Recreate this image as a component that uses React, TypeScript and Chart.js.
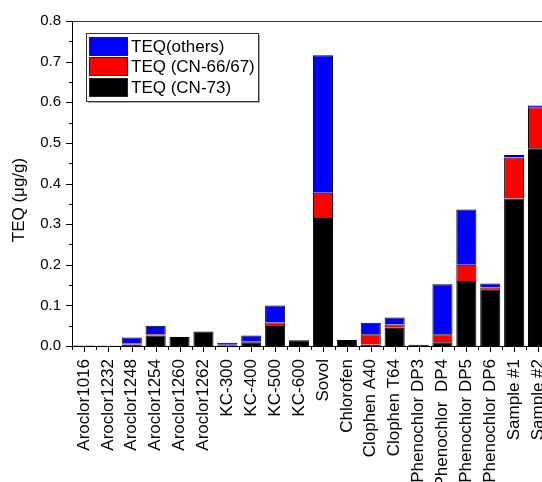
import React, { useEffect, useRef } from "react";
import { Chart, registerables } from "chart.js";

Chart.register(...registerables);

const categories = [
  "Aroclor1016", "Aroclor1232", "Aroclor1248", "Aroclor1254", "Aroclor1260", "Aroclor1262",
  "KC-300", "KC-400", "KC-500", "KC-600", "Sovol", "Chlorofen", "Clophen A40", "Clophen T64",
  "Phenochlor DP3", "Phenochlor  DP4", "Phenochlor DP5", "Phenochlor DP6", "Sample #1", "Sample #2",
];

const teqCN73 = [0, 0.0008, 0.004, 0.026, 0.022, 0.036, 0.002, 0.009, 0.049, 0.014, 0.315, 0.015, 0.004, 0.045, 0.003, 0.009, 0.16, 0.14, 0.363, 0.487];
const teqCN6667 = [0, 0, 0.003, 0.003, 0, 0, 0.001, 0.003, 0.009, 0, 0.062, 0, 0.025, 0.008, 0, 0.02, 0.04, 0.004, 0.101, 0.101];
const teqOthers = [0.001, 0.0005, 0.014, 0.021, 0, 0, 0.005, 0.014, 0.042, 0, 0.339, 0, 0.028, 0.017, 0, 0.123, 0.136, 0.01, 0.006, 0.004];

const yTicks = [0, 0.1, 0.2, 0.3, 0.4, 0.5, 0.6, 0.7, 0.8];

const legendItems = [
  { label: "TEQ(others)", color: "#0000ff" },
  { label: "TEQ (CN-66/67)", color: "#ff0000" },
  { label: "TEQ (CN-73)", color: "#000000" },
];

const FONT = '"Liberation Sans", Arial, sans-serif';

const decorPlugin = {
  id: "decor",
  afterDraw(chart: any) {
    const ctx = chart.ctx;
    const area = chart.chartArea;
    const x = chart.scales.x;
    const y = chart.scales.y;
    ctx.save();
    // top frame
    ctx.strokeStyle = "#333";
    ctx.lineWidth = 1;
    ctx.beginPath();
    ctx.moveTo(area.left, Math.round(area.top) + 0.5);
    ctx.lineTo(area.right, Math.round(area.top) + 0.5);
    ctx.moveTo(Math.round(area.right) - 0.5, area.top);
    ctx.lineTo(Math.round(area.right) - 0.5, area.bottom);
    ctx.stroke();
    // y ticks
    ctx.strokeStyle = "#000";
    ctx.beginPath();
    for (let i = 0; i < yTicks.length; i++) {
      const py = Math.round(y.getPixelForValue(yTicks[i])) + 0.5;
      ctx.moveTo(area.left - 6, py);
      ctx.lineTo(area.left, py);
      if (i < yTicks.length - 1) {
        const pm = Math.round(y.getPixelForValue((yTicks[i] + yTicks[i + 1]) / 2)) + 0.5;
        ctx.moveTo(area.left - 3, pm);
        ctx.lineTo(area.left, pm);
      }
    }
    // x ticks
    const n = categories.length;
    const half = (x.getPixelForValue(1) - x.getPixelForValue(0)) / 2;
    for (let i = 0; i < n; i++) {
      const px = Math.round(x.getPixelForValue(i)) + 0.5;
      ctx.moveTo(px, area.bottom);
      ctx.lineTo(px, area.bottom + 6);
      const pb = Math.round(x.getPixelForValue(i) - half) + 0.5;
      ctx.moveTo(pb, area.bottom);
      ctx.lineTo(pb, area.bottom + 4);
    }
    ctx.stroke();

    // y title
    ctx.fillStyle = "#000";
    ctx.font = `17px ${FONT}`;
    ctx.textAlign = "center";
    ctx.textBaseline = "middle";
    ctx.translate(19, 200);
    ctx.rotate(-Math.PI / 2);
    ctx.fillText("TEQ (\u03bcg/g)", 0, 0);
    ctx.setTransform(1, 0, 0, 1, 0, 0);

    // legend
    const lx = 86, ly = 33, lw = 172, lh = 68;
    ctx.fillStyle = "#aaa";
    ctx.fillRect(lx + 2, ly + 2, lw, lh);
    ctx.fillStyle = "#fff";
    ctx.fillRect(lx, ly, lw, lh);
    ctx.strokeStyle = "#333";
    ctx.strokeRect(lx + 0.5, ly + 0.5, lw, lh);
    const sy = [37, 57, 78];
    for (let i = 0; i < legendItems.length; i++) {
      ctx.fillStyle = legendItems[i].color;
      ctx.fillRect(89, sy[i], 39, 19);
      ctx.strokeStyle = "#222";
      ctx.strokeRect(89.5, sy[i] + 0.5, 38, 18);
      ctx.fillStyle = "#000";
      ctx.font = `17px ${FONT}`;
      ctx.textAlign = "left";
      ctx.textBaseline = "middle";
      ctx.fillText(legendItems[i].label, 131, sy[i] + 10);
    }
    ctx.restore();
  },
};

export default function App() {
  const ref = useRef<HTMLCanvasElement>(null);
  useEffect(() => {
    if (!ref.current) return;
    const chart = new Chart(ref.current, {
      type: "bar",
      data: {
        labels: categories,
        datasets: [
          { label: "TEQ (CN-73)", data: teqCN73, backgroundColor: "#000000", borderColor: "#000000", borderWidth: 1 },
          { label: "TEQ (CN-66/67)", data: teqCN6667, backgroundColor: "#ff0000", borderColor: "#000000", borderWidth: 1 },
          { label: "TEQ(others)", data: teqOthers, backgroundColor: "#0000ff", borderColor: "#000000", borderWidth: 1 },
        ],
      },
      options: {
        responsive: false,
        animation: false,
        devicePixelRatio: 1,
        layout: { padding: { top: 21, right: 50, left: 0, bottom: 0 } },
        datasets: { bar: { barPercentage: 0.84, categoryPercentage: 1 } } as any,
        plugins: { legend: { display: false }, tooltip: { enabled: false } },
        scales: {
          x: {
            stacked: true,
            grid: { display: false, drawTicks: false },
            border: { display: true, color: "#000", width: 1 },
            ticks: {
              autoSkip: false,
              maxRotation: 90,
              minRotation: 90,
              padding: 13,
              color: "#000",
              font: { family: FONT, size: 17 },
            },
            afterFit(scale: any) {
              scale.height = 136;
            },
          },
          y: {
            stacked: true,
            min: 0,
            max: 0.8,
            grid: { display: false, drawTicks: false },
            border: { display: true, color: "#000", width: 1 },
            ticks: {
              stepSize: 0.1,
              padding: 11,
              color: "#000",
              font: { family: FONT, size: 15 },
              callback: (v: any) => Number(v).toFixed(1),
            },
            afterFit(scale: any) {
              scale.width = 72;
            },
          },
        },
      },
      plugins: [decorPlugin],
    });
    return () => chart.destroy();
  }, []);
  return (
    <div style={{ position: "fixed", left: 0, top: 0, width: 542, height: 482, overflow: "hidden", background: "#fff" }}>
      <canvas ref={ref} width={600} height={482} style={{ display: "block", width: 600, height: 482 }} />
    </div>
  );
}
